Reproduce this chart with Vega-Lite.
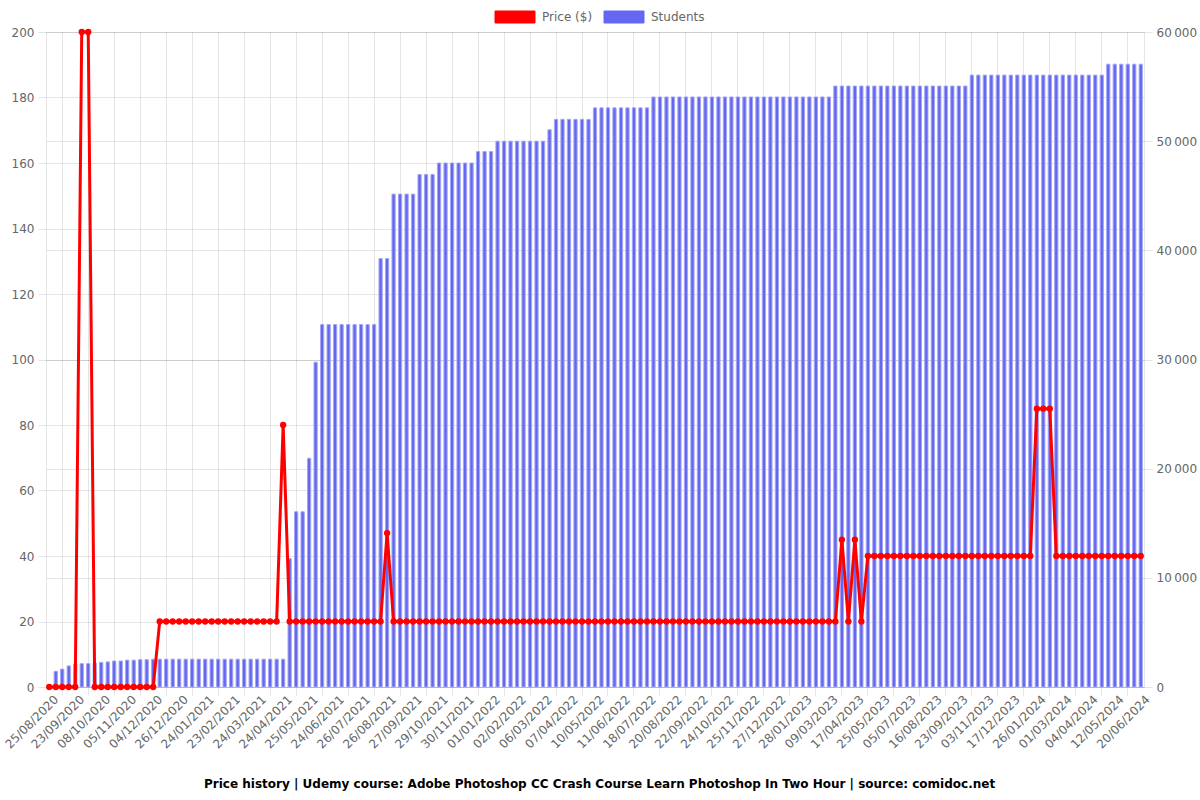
{
  "$schema": "https://vega.github.io/schema/vega-lite/v6.json",
  "width": 1098,
  "height": 655,
  "autosize": {"type": "none"},
  "padding": {"left": 46, "top": 32, "right": 56, "bottom": 113},
  "background": "white",
  "config": {
    "font": "DejaVu Sans",
    "view": {"stroke": null},
    "axis": {
      "labelColor": "#666",
      "labelFontSize": 12,
      "labelFont": "DejaVu Sans",
      "gridColor": "#000",
      "gridOpacity": 0.1,
      "tickColor": "#000",
      "tickOpacity": 0.1,
      "domainColor": "#000",
      "domainOpacity": 0.1,
      "tickSize": 8,
      "labelPadding": 4,
      "title": null
    }
  },
  "title": {
    "text": "Price history | Udemy course: Adobe Photoshop CC Crash Course Learn Photoshop In Two Hour | source: comidoc.net",
    "orient": "bottom",
    "anchor": "middle",
    "frame": "bounds",
    "fontSize": 12,
    "fontWeight": "bold",
    "color": "#000",
    "font": "DejaVu Sans",
    "offset": 29
  },
  "data": {
    "values": [
      {"d": "25/08/2020", "p": 0, "s": 0},
      {"d": "01/09/2020", "p": 0, "s": 1440},
      {"d": "08/09/2020", "p": 0, "s": 1640},
      {"d": "16/09/2020", "p": 0, "s": 1930},
      {"d": "23/09/2020", "p": 0, "s": 2100},
      {"d": "26/09/2020", "p": 200, "s": 2140},
      {"d": "30/09/2020", "p": 200, "s": 2140},
      {"d": "04/10/2020", "p": 0, "s": 2200},
      {"d": "08/10/2020", "p": 0, "s": 2260},
      {"d": "15/10/2020", "p": 0, "s": 2300},
      {"d": "22/10/2020", "p": 0, "s": 2380},
      {"d": "29/10/2020", "p": 0, "s": 2380},
      {"d": "05/11/2020", "p": 0, "s": 2460},
      {"d": "12/11/2020", "p": 0, "s": 2460},
      {"d": "19/11/2020", "p": 0, "s": 2500},
      {"d": "27/11/2020", "p": 0, "s": 2500},
      {"d": "04/12/2020", "p": 0, "s": 2540},
      {"d": "09/12/2020", "p": 20, "s": 2550},
      {"d": "15/12/2020", "p": 20, "s": 2550},
      {"d": "20/12/2020", "p": 20, "s": 2550},
      {"d": "26/12/2020", "p": 20, "s": 2550},
      {"d": "02/01/2021", "p": 20, "s": 2550},
      {"d": "09/01/2021", "p": 20, "s": 2550},
      {"d": "17/01/2021", "p": 20, "s": 2550},
      {"d": "24/01/2021", "p": 20, "s": 2550},
      {"d": "31/01/2021", "p": 20, "s": 2550},
      {"d": "08/02/2021", "p": 20, "s": 2550},
      {"d": "15/02/2021", "p": 20, "s": 2550},
      {"d": "23/02/2021", "p": 20, "s": 2550},
      {"d": "02/03/2021", "p": 20, "s": 2550},
      {"d": "09/03/2021", "p": 20, "s": 2550},
      {"d": "17/03/2021", "p": 20, "s": 2550},
      {"d": "24/03/2021", "p": 20, "s": 2550},
      {"d": "01/04/2021", "p": 20, "s": 2550},
      {"d": "09/04/2021", "p": 20, "s": 2550},
      {"d": "16/04/2021", "p": 20, "s": 2550},
      {"d": "24/04/2021", "p": 80, "s": 2550},
      {"d": "02/05/2021", "p": 20, "s": 11750},
      {"d": "10/05/2021", "p": 20, "s": 16050},
      {"d": "17/05/2021", "p": 20, "s": 16050},
      {"d": "25/05/2021", "p": 20, "s": 20950},
      {"d": "01/06/2021", "p": 20, "s": 29750},
      {"d": "09/06/2021", "p": 20, "s": 33200},
      {"d": "16/06/2021", "p": 20, "s": 33200},
      {"d": "24/06/2021", "p": 20, "s": 33200},
      {"d": "02/07/2021", "p": 20, "s": 33200},
      {"d": "10/07/2021", "p": 20, "s": 33200},
      {"d": "18/07/2021", "p": 20, "s": 33200},
      {"d": "26/07/2021", "p": 20, "s": 33200},
      {"d": "03/08/2021", "p": 20, "s": 33200},
      {"d": "11/08/2021", "p": 20, "s": 33200},
      {"d": "18/08/2021", "p": 20, "s": 39250},
      {"d": "26/08/2021", "p": 47, "s": 39250},
      {"d": "03/09/2021", "p": 20, "s": 45150},
      {"d": "11/09/2021", "p": 20, "s": 45150},
      {"d": "19/09/2021", "p": 20, "s": 45150},
      {"d": "27/09/2021", "p": 20, "s": 45150},
      {"d": "05/10/2021", "p": 20, "s": 46950},
      {"d": "13/10/2021", "p": 20, "s": 46950},
      {"d": "21/10/2021", "p": 20, "s": 46950},
      {"d": "29/10/2021", "p": 20, "s": 48000},
      {"d": "06/11/2021", "p": 20, "s": 48000},
      {"d": "14/11/2021", "p": 20, "s": 48000},
      {"d": "22/11/2021", "p": 20, "s": 48000},
      {"d": "30/11/2021", "p": 20, "s": 48000},
      {"d": "08/12/2021", "p": 20, "s": 48000},
      {"d": "16/12/2021", "p": 20, "s": 49050},
      {"d": "24/12/2021", "p": 20, "s": 49050},
      {"d": "01/01/2022", "p": 20, "s": 49050},
      {"d": "09/01/2022", "p": 20, "s": 50000},
      {"d": "17/01/2022", "p": 20, "s": 50000},
      {"d": "25/01/2022", "p": 20, "s": 50000},
      {"d": "02/02/2022", "p": 20, "s": 50000},
      {"d": "10/02/2022", "p": 20, "s": 50000},
      {"d": "18/02/2022", "p": 20, "s": 50000},
      {"d": "26/02/2022", "p": 20, "s": 50000},
      {"d": "06/03/2022", "p": 20, "s": 50000},
      {"d": "14/03/2022", "p": 20, "s": 51050},
      {"d": "22/03/2022", "p": 20, "s": 52000},
      {"d": "30/03/2022", "p": 20, "s": 52000},
      {"d": "07/04/2022", "p": 20, "s": 52000},
      {"d": "15/04/2022", "p": 20, "s": 52000},
      {"d": "23/04/2022", "p": 20, "s": 52000},
      {"d": "02/05/2022", "p": 20, "s": 52000},
      {"d": "10/05/2022", "p": 20, "s": 53050},
      {"d": "18/05/2022", "p": 20, "s": 53050},
      {"d": "26/05/2022", "p": 20, "s": 53050},
      {"d": "03/06/2022", "p": 20, "s": 53050},
      {"d": "11/06/2022", "p": 20, "s": 53050},
      {"d": "20/06/2022", "p": 20, "s": 53050},
      {"d": "29/06/2022", "p": 20, "s": 53050},
      {"d": "08/07/2022", "p": 20, "s": 53050},
      {"d": "18/07/2022", "p": 20, "s": 53050},
      {"d": "26/07/2022", "p": 20, "s": 54050},
      {"d": "03/08/2022", "p": 20, "s": 54050},
      {"d": "12/08/2022", "p": 20, "s": 54050},
      {"d": "20/08/2022", "p": 20, "s": 54050},
      {"d": "28/08/2022", "p": 20, "s": 54050},
      {"d": "05/09/2022", "p": 20, "s": 54050},
      {"d": "14/09/2022", "p": 20, "s": 54050},
      {"d": "22/09/2022", "p": 20, "s": 54050},
      {"d": "30/09/2022", "p": 20, "s": 54050},
      {"d": "08/10/2022", "p": 20, "s": 54050},
      {"d": "16/10/2022", "p": 20, "s": 54050},
      {"d": "24/10/2022", "p": 20, "s": 54050},
      {"d": "01/11/2022", "p": 20, "s": 54050},
      {"d": "09/11/2022", "p": 20, "s": 54050},
      {"d": "17/11/2022", "p": 20, "s": 54050},
      {"d": "25/11/2022", "p": 20, "s": 54050},
      {"d": "03/12/2022", "p": 20, "s": 54050},
      {"d": "11/12/2022", "p": 20, "s": 54050},
      {"d": "19/12/2022", "p": 20, "s": 54050},
      {"d": "27/12/2022", "p": 20, "s": 54050},
      {"d": "04/01/2023", "p": 20, "s": 54050},
      {"d": "12/01/2023", "p": 20, "s": 54050},
      {"d": "20/01/2023", "p": 20, "s": 54050},
      {"d": "28/01/2023", "p": 20, "s": 54050},
      {"d": "07/02/2023", "p": 20, "s": 54050},
      {"d": "17/02/2023", "p": 20, "s": 54050},
      {"d": "27/02/2023", "p": 20, "s": 54050},
      {"d": "09/03/2023", "p": 20, "s": 54050},
      {"d": "19/03/2023", "p": 20, "s": 55050},
      {"d": "29/03/2023", "p": 45, "s": 55050},
      {"d": "08/04/2023", "p": 20, "s": 55050},
      {"d": "17/04/2023", "p": 45, "s": 55050},
      {"d": "26/04/2023", "p": 20, "s": 55050},
      {"d": "06/05/2023", "p": 40, "s": 55050},
      {"d": "15/05/2023", "p": 40, "s": 55050},
      {"d": "25/05/2023", "p": 40, "s": 55050},
      {"d": "04/06/2023", "p": 40, "s": 55050},
      {"d": "14/06/2023", "p": 40, "s": 55050},
      {"d": "25/06/2023", "p": 40, "s": 55050},
      {"d": "05/07/2023", "p": 40, "s": 55050},
      {"d": "15/07/2023", "p": 40, "s": 55050},
      {"d": "26/07/2023", "p": 40, "s": 55050},
      {"d": "05/08/2023", "p": 40, "s": 55050},
      {"d": "16/08/2023", "p": 40, "s": 55050},
      {"d": "25/08/2023", "p": 40, "s": 55050},
      {"d": "04/09/2023", "p": 40, "s": 55050},
      {"d": "13/09/2023", "p": 40, "s": 55050},
      {"d": "23/09/2023", "p": 40, "s": 55050},
      {"d": "03/10/2023", "p": 40, "s": 55050},
      {"d": "13/10/2023", "p": 40, "s": 56050},
      {"d": "24/10/2023", "p": 40, "s": 56050},
      {"d": "03/11/2023", "p": 40, "s": 56050},
      {"d": "14/11/2023", "p": 40, "s": 56050},
      {"d": "25/11/2023", "p": 40, "s": 56050},
      {"d": "06/12/2023", "p": 40, "s": 56050},
      {"d": "17/12/2023", "p": 40, "s": 56050},
      {"d": "27/12/2023", "p": 40, "s": 56050},
      {"d": "06/01/2024", "p": 40, "s": 56050},
      {"d": "16/01/2024", "p": 40, "s": 56050},
      {"d": "26/01/2024", "p": 85, "s": 56050},
      {"d": "04/02/2024", "p": 85, "s": 56050},
      {"d": "13/02/2024", "p": 85, "s": 56050},
      {"d": "21/02/2024", "p": 40, "s": 56050},
      {"d": "01/03/2024", "p": 40, "s": 56050},
      {"d": "09/03/2024", "p": 40, "s": 56050},
      {"d": "18/03/2024", "p": 40, "s": 56050},
      {"d": "26/03/2024", "p": 40, "s": 56050},
      {"d": "04/04/2024", "p": 40, "s": 56050},
      {"d": "13/04/2024", "p": 40, "s": 56050},
      {"d": "23/04/2024", "p": 40, "s": 56050},
      {"d": "02/05/2024", "p": 40, "s": 57050},
      {"d": "12/05/2024", "p": 40, "s": 57050},
      {"d": "22/05/2024", "p": 40, "s": 57050},
      {"d": "31/05/2024", "p": 40, "s": 57050},
      {"d": "10/06/2024", "p": 40, "s": 57050},
      {"d": "20/06/2024", "p": 40, "s": 57050}
    ]
  },
  "layer": [
    {
      "mark": {"type": "bar", "stroke": "#a5a7f6", "strokeWidth": 1},
      "encoding": {
        "x": {
          "field": "d",
          "type": "nominal",
          "sort": null,
          "scale": {"paddingInner": 0.5, "paddingOuter": 0.25},
          "axis": {
            "orient": "bottom",
            "values": ["25/08/2020","23/09/2020","08/10/2020","05/11/2020","04/12/2020","26/12/2020","24/01/2021","23/02/2021","24/03/2021","24/04/2021","25/05/2021","24/06/2021","26/07/2021","26/08/2021","27/09/2021","29/10/2021","30/11/2021","01/01/2022","02/02/2022","06/03/2022","07/04/2022","10/05/2022","11/06/2022","18/07/2022","20/08/2022","22/09/2022","24/10/2022","25/11/2022","27/12/2022","28/01/2023","09/03/2023","17/04/2023","25/05/2023","05/07/2023","16/08/2023","23/09/2023","03/11/2023","17/12/2023","26/01/2024","01/03/2024","04/04/2024","12/05/2024","20/06/2024"],
            "labelAngle": -45,
            "labelAlign": "right",
            "labelBaseline": "middle",
            "labelPadding": 10,
            "labelOffset": 7,
            "labelOverlap": false,
            "labelBound": false,
            "ticks": false,
            "grid": false,
            "domain": true
          }
        },
        "y": {
          "field": "s",
          "type": "quantitative",
          "scale": {"domain": [0, 60000], "nice": false},
          "axis": {
            "orient": "right",
            "values": [0, 10000, 20000, 30000, 40000, 50000, 60000],
            "labelExpr": "replace(format(datum.value, ','), ',', '\u202f')",
            "grid": true,
            "domain": true
          }
        },
        "color": {
          "datum": "Students",
          "type": "nominal",
          "scale": {"domain": ["Price ($)", "Students"], "range": ["#ff0000", "#6467f0"]},
          "legend": {
            "orient": "none",
            "legendX": 448,
            "legendY": -21,
            "direction": "horizontal",
            "title": null,
            "symbolType": "M-1,-1.2H7V1.2H-1Z",
            "symbolSize": 100,
            "symbolStrokeWidth": 1,
            "symbolOpacity": 1,
            "labelOffset": 36,
            "labelFontSize": 12,
            "labelColor": "#666",
            "labelFont": "DejaVu Sans",
            "columnPadding": 9,
            "encode": {
              "symbols": {
                "update": {
                  "fill": {"scale": "color", "field": "value"},
                  "stroke": {"scale": "color", "field": "value"},
                  "fillOpacity": {"value": 1}
                }
              }
            }
          }
        }
      }
    },
    {
      "mark": {"type": "line", "strokeWidth": 3, "point": {"filled": true, "size": 40}},
      "encoding": {
        "x": {
          "field": "d",
          "type": "nominal",
          "sort": null,
          "axis": {
            "orient": "bottom",
            "values": ["08/09/2020","30/09/2020","22/10/2020","19/11/2020","15/12/2020","09/01/2021","08/02/2021","09/03/2021","09/04/2021","10/05/2021","09/06/2021","10/07/2021","11/08/2021","11/09/2021","13/10/2021","14/11/2021","16/12/2021","17/01/2022","18/02/2022","22/03/2022","23/04/2022","26/05/2022","29/06/2022","03/08/2022","05/09/2022","08/10/2022","09/11/2022","11/12/2022","12/01/2023","17/02/2023","29/03/2023","06/05/2023","14/06/2023","26/07/2023","04/09/2023","13/10/2023","25/11/2023","06/01/2024","13/02/2024","18/03/2024","23/04/2024","31/05/2024"],
            "labels": false,
            "ticks": true,
            "grid": true,
            "domain": false
          }
        },
        "y": {
          "field": "p",
          "type": "quantitative",
          "scale": {"domain": [0, 200], "nice": false},
          "axis": {
            "orient": "left",
            "values": [0, 20, 40, 60, 80, 100, 120, 140, 160, 180, 200],
            "grid": true,
            "domain": true
          }
        },
        "color": {"datum": "Price ($)", "type": "nominal"}
      }
    }
  ],
  "resolve": {
    "scale": {"y": "independent"},
    "axis": {"x": "independent", "y": "independent"}
  }
}
